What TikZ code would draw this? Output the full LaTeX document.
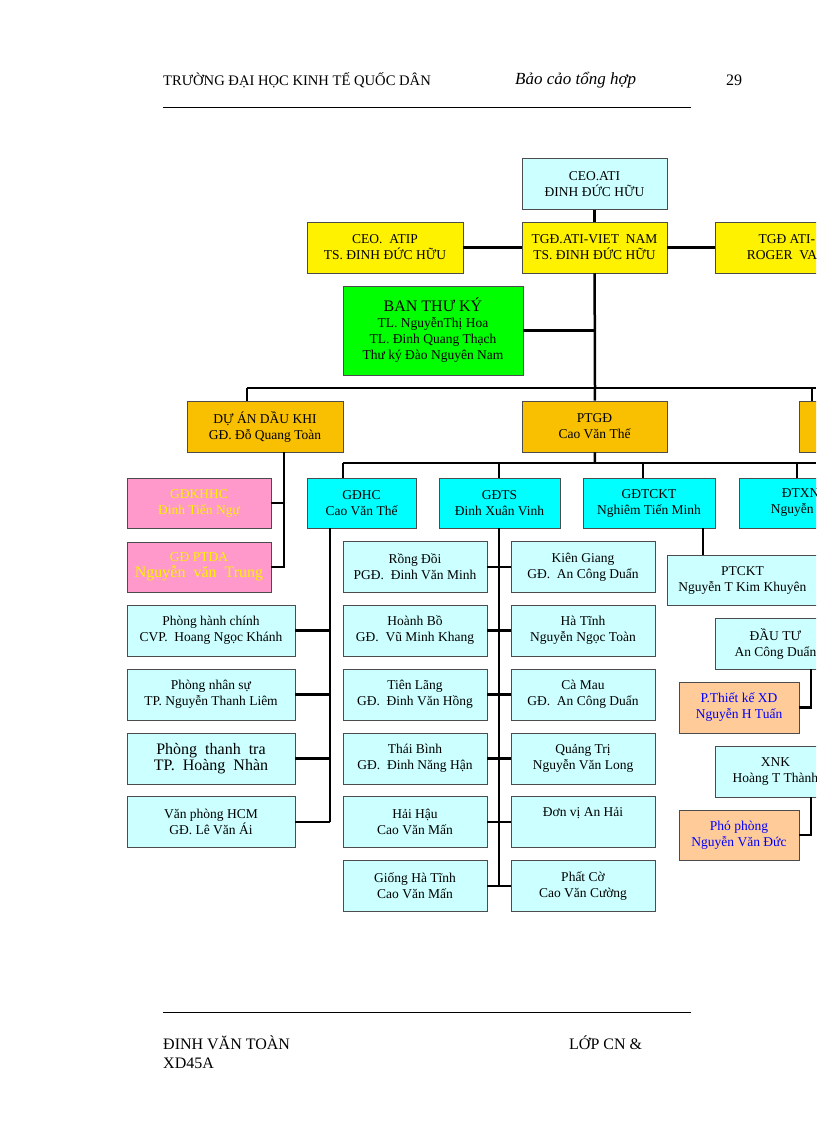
\documentclass[tikz,border=0pt]{standalone}
\usepackage{fontspec}
\setmainfont{Liberation Serif}
\usetikzlibrary{positioning}
\definecolor{lcyan}{HTML}{CCFFFF}
\definecolor{ccyan}{HTML}{00FFFF}
\definecolor{gold}{HTML}{F8C000}
\definecolor{pinkb}{HTML}{FF99CC}
\definecolor{peach}{HTML}{FFCC99}
\begin{document}
\begin{tikzpicture}[x=1pt, y=-1pt,
      box/.style={draw=black!70, line width=0.8, align=center, inner sep=1,
        font=\fontsize{13.5}{16}\selectfont, minimum height=51},
      lc/.style={box, fill=lcyan},
      yel/.style={box, fill=yellow},
      org/.style={box, fill=gold},
      cy/.style={box, fill=ccyan},
      pk/.style={box, fill=pinkb, text=yellow},
      pc/.style={box, fill=peach, text=blue},
      link/.style={line width=2.5}
    ]
    \useasboundingbox (0,0) rectangle (816,1123);
    \clip (0,0) rectangle (816,1123);
    % header and footer
    \node[anchor=west, inner sep=0, font=\fontsize{14.6}{16}\selectfont] (hd) at (163,80) {TRƯỜNG ĐẠI HỌC KINH TẾ QUỐC DÂN};
    \node[anchor=west, inner sep=0, font=\fontsize{17}{18}\selectfont\itshape] (ht) at (515,80) {Bảo cảo tổng hợp};
    \node[anchor=west, inner sep=0, font=\fontsize{16}{18}\selectfont] (pg) at (726,80) {29};
    \draw[line width=1] (163,108) -- (691,108);
    \draw[line width=1] (163,1012) -- (691,1012);
    \node[anchor=west, inner sep=0, font=\fontsize{16}{18}\selectfont] (f1) at (163,1043) {ĐINH VĂN TOÀN};
    \node[anchor=west, inner sep=0, font=\fontsize{16}{18}\selectfont] (f2) at (163,1063) {XD45A};
    \node[anchor=west, inner sep=0, font=\fontsize{16}{18}\selectfont] (f3) at (569,1043) {LỚP CN \&};

    % top level
    \node[lc, minimum width=145] (ceo) at (594.5,184) {CEO.ATI\\ĐINH ĐỨC HỮU};
    \node[yel, minimum width=145] (tgd) at (594.5,247.5) {TGĐ.ATI-VIET\ \ NAM\\TS. ĐINH ĐỨC HỮU};
    \node[yel, minimum width=156] (atip) at (385,247.5) {CEO.\ \ ATIP\\TS. ĐINH ĐỨC HỮU};
    \node[yel, minimum width=156, anchor=west] (atiu) at (715,247.5) {TGĐ ATI- U\\ROGER\ \ VAN H};
    \node[box, fill=green, minimum width=180, minimum height=89] (btk) at (433,330.5)
      {{\fontsize{16}{18}\selectfont BAN THƯ KÝ}\\TL. NguyễnThị Hoa\\TL. Đinh Quang Thạch\\Thư ký Đào Nguyên Nam};
    \coordinate (j1) at (595,388);
    \coordinate (jl) at (247,388);
    \coordinate (jr) at (816,388);
    \draw[link] (ceo) -- (tgd);
    \draw[link] (atip) -- (tgd) -- (atiu);
    \draw[link] (tgd) -- (j1);
    \draw[link] (btk.east) -- (btk.east -| j1);
    \draw[link] (jl) -- (jr);

    % second level
    \node[org, minimum width=156] (dak) at (265,426.5) {DỰ ÁN DẦU KHI\\GĐ. Đỗ Quang Toàn};
    \node[org, minimum width=145] (ptgd) at (594.5,426.5) {PTGĐ\\Cao Văn Thế};
    \node[org, minimum width=60, anchor=west] (org3) at (799,426.5) {};
    \draw[link] (jl) -- (jl |- dak.north);
    \draw[link] (j1) -- (ptgd);
    \draw[link] (812,388) -- (812,401);
    \coordinate (j2) at (595,463);
    \draw[link] (ptgd) -- (j2);
    \draw[link] (343,463) -- (816,463);

    % third level
    \node[cy, minimum width=109, minimum height=50] (gdhc) at (361.5,503) {GĐHC\\Cao Văn Thế};
    \node[cy, minimum width=121, minimum height=50] (gdts) at (499.5,503) {GĐTS\\Đinh Xuân Vinh};
    \node[cy, minimum width=132, minimum height=50] (gdtckt) at (649,503) {GĐTCKT\\Nghiêm Tiến Minh};
    \node[cy, minimum width=132, minimum height=50, anchor=west] (dtxnk) at (739,503) {ĐTXNK\\Nguyễn Đức};
    \foreach \n/\x in {gdhc/343, gdts/499, gdtckt/643, dtxnk/797}
      \draw[link] (\x,463) -- (\x,478);

    % pink boxes
    \node[pk, minimum width=144, minimum height=50] (khhc) at (199,503) {GĐKHHC\\Đinh Tiến Ngự};
    \node[pk, minimum width=144, minimum height=50] (ptda) at (199,567)
      {GĐ PTDA\\{\fontsize{16}{18}\selectfont Nguyễn\ \ văn\ \ Trung}};
    \draw[link] (284,452) -- (284,567) -- (ptda.east);
    \draw[link] (khhc.east) -- (284,503);

    % GDHC column
    \draw[link] (330,528) -- (330,822);
    \foreach \n/\y/\t in {hc/630.5/{Phòng hành chính\\CVP.\ \ Hoang Ngọc Khánh},
        ns/694.5/{Phòng nhân sự\\TP. Nguyễn Thanh Liêm},
        tt/758.5/{{\fontsize{16}{19}\selectfont Phòng\ \ thanh\ \ tra}\\{\fontsize{16}{19}\selectfont TP.\ \ Hoàng\ \ Nhàn}},
        hcm/822/{Văn phòng HCM\\GĐ. Lê Văn Ái}} {
      \node[lc, minimum width=168] (\n) at (211,\y) {\t};
      \draw[link] (\n.east) -- (330,\y);
    }

    % GDTS columns
    \draw[link] (499,528) -- (499,886);
    \foreach \n/\y/\a/\b in {r1/567/{Rồng Đồi\\PGĐ.\ \ Đinh Văn Minh}/{Kiên Giang\\GĐ.\ \ An Công Duẩn},
        r2/630.5/{Hoành Bồ\\GĐ.\ \ Vũ Minh Khang}/{Hà Tĩnh\\Nguyễn Ngọc Toàn},
        r3/694.5/{Tiên Lãng\\GĐ.\ \ Đinh Văn Hồng}/{Cà Mau\\GĐ.\ \ An Công Duẩn},
        r4/758.5/{Thái Bình\\GĐ.\ \ Đinh Năng Hận}/{Quảng Trị\\Nguyễn Văn Long},
        r5/822/{Hải Hậu\\Cao Văn Mấn}/{Đơn vị An Hải\\\strut},
        r6/886/{Giống Hà Tĩnh\\Cao Văn Mấn}/{Phất Cờ\\Cao Văn Cường}} {
      \node[lc, minimum width=144] (\n a) at (415,\y) {\a};
      \node[lc, minimum width=144] (\n b) at (583,\y) {\b};
      \draw[link] (\n a.east) -- (\n b.west);
    }

    % GDTCKT / DTXNK column
    \node[lc, minimum width=150, minimum height=50, anchor=west] (ptckt) at (667,580) {PTCKT\\Nguyễn T Kim Khuyên};
    \draw[link] (703,528) -- (703,555);
    \node[lc, minimum width=120, minimum height=51, anchor=west] (dautu) at (715,643.5) {ĐẦU TƯ\\An Công Duẩn};
    \node[pc, minimum width=120, minimum height=51] (tkxd) at (739,707.5) {P.Thiết kế XD\\Nguyễn H Tuấn};
    \draw[link] (811,669) -- (811,707.5) -- (tkxd.east);
    \node[lc, minimum width=120, minimum height=51, anchor=west] (xnk) at (715,771.5) {XNK\\Hoàng T Thành};
    \node[pc, minimum width=120, minimum height=50] (ppg) at (739,835) {Phó phòng\\Nguyễn Văn Đức};
    \draw[link] (811,797) -- (811,835) -- (ppg.east);
\end{tikzpicture}
\end{document}
